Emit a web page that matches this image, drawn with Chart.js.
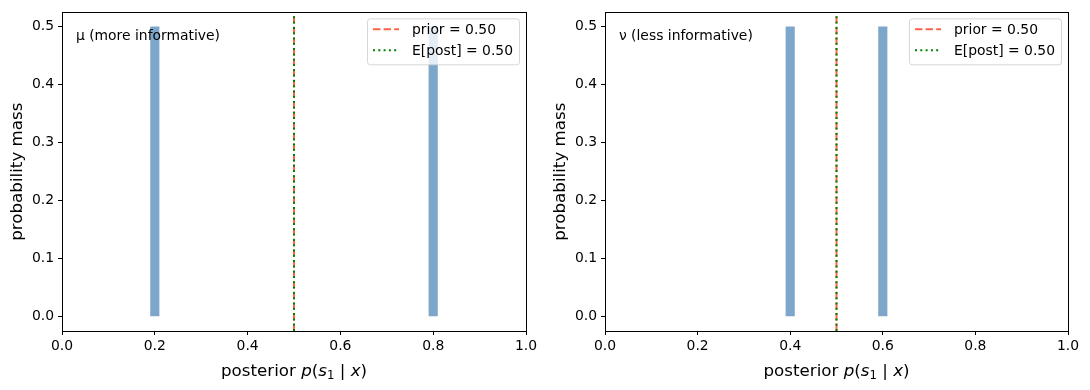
<!DOCTYPE html>
<html>
<head>
<meta charset="utf-8">
<script src="https://cdn.jsdelivr.net/npm/chart.js@4"></script>
<style>
  html, body { margin: 0; padding: 0; background: #fff; }
  #wrap { position: relative; width: 1090px; height: 390px; }
  .panel { position: absolute; top: 0; width: 545px; height: 390px; }
</style>
</head>
<body>
<div id="wrap">
  <div class="panel" style="left:0"><canvas id="muChart" width="545" height="390"></canvas></div>
  <div class="panel" style="left:545px"><canvas id="nuChart" width="545" height="390"></canvas></div>
</div>
<script>
// values
const xTicks = [0.0, 0.2, 0.4, 0.6, 0.8, 1.0];
const yTicks = [0.0, 0.1, 0.2, 0.3, 0.4, 0.5];
const muPosteriors = [0.2, 0.8];
const muMass = [0.5, 0.5];
const nuPosteriors = [0.4, 0.6];
const nuMass = [0.5, 0.5];
const prior = 0.5;
const muMean = 0.5;
const nuMean = 0.5;

const FONT = "'DejaVu Sans', sans-serif";

// frame, annotation, legend and axis titles, drawn the matplotlib way
const decorPlugin = {
  id: "decor",
  afterDatasetsDraw(chart, args, opts) {
    const ctx = chart.ctx;
    const a = chart.chartArea;
    ctx.save();

    // full box around the axes
    ctx.strokeStyle = "#000";
    ctx.lineWidth = 1;
    ctx.strokeRect(Math.round(a.left) + 0.5, Math.round(a.top) + 0.5,
      Math.round(a.right - a.left), Math.round(a.bottom - a.top));

    // annotation in axes coords (0.03, 0.95)
    ctx.fillStyle = "#000";
    ctx.font = "13.9px " + FONT;
    ctx.textAlign = "left";
    ctx.textBaseline = "top";
    ctx.fillText(opts.note, a.left + 0.03 * (a.right - a.left), a.top + 0.05 * (a.bottom - a.top) + 1);

    // legend, top right
    const items = chart.data.datasets.filter((d) => d.label);
    ctx.font = "13.9px " + FONT;
    let textW = 0;
    items.forEach((d) => { textW = Math.max(textW, ctx.measureText(d.label).width); });
    const boxW = 6 + 26 + 13 + textW + 6;
    const boxH = 46;
    const bx = a.right - 7 - boxW;
    const by = a.top + 6;
    ctx.beginPath();
    ctx.roundRect(bx + 0.5, by + 0.5, boxW, boxH, 3);
    ctx.fillStyle = "rgba(255,255,255,0.8)";
    ctx.fill();
    ctx.strokeStyle = "rgba(204,204,204,0.8)";
    ctx.stroke();
    items.forEach((d, i) => {
      const cy = by + 11 + i * 21;
      ctx.beginPath();
      ctx.setLineDash(d.borderDash || []);
      ctx.lineWidth = d.borderWidth;
      ctx.strokeStyle = d.borderColor;
      ctx.moveTo(bx + 6, cy);
      ctx.lineTo(bx + 32, cy);
      ctx.stroke();
      ctx.setLineDash([]);
      ctx.fillStyle = "#000";
      ctx.textBaseline = "middle";
      ctx.fillText(d.label, bx + 45, cy + 1);
    });

    // y axis title
    ctx.save();
    ctx.translate(opts.yTitleX, (a.top + a.bottom) / 2);
    ctx.rotate(-Math.PI / 2);
    ctx.font = "16.7px " + FONT;
    ctx.textAlign = "center";
    ctx.textBaseline = "middle";
    ctx.fillStyle = "#000";
    ctx.fillText("probability mass", 0, 0);
    ctx.restore();

    // x axis title with math-style italics: posterior p(s1 | x)
    const parts = [
      { t: "posterior ", f: "16.7px " + FONT, dy: 0 },
      { t: "p", f: "oblique 16.7px " + FONT, dy: 0 },
      { t: "(", f: "16.7px " + FONT, dy: 0 },
      { t: "s", f: "oblique 16.7px " + FONT, dy: 0 },
      { t: "1", f: "11.7px " + FONT, dy: 3 },
      { t: " | ", f: "16.7px " + FONT, dy: 0 },
      { t: "x", f: "oblique 16.7px " + FONT, dy: 0 },
      { t: ")", f: "16.7px " + FONT, dy: 0 },
    ];
    let total = 0;
    parts.forEach((p) => { ctx.font = p.f; p.w = ctx.measureText(p.t).width; total += p.w; });
    let x = (a.left + a.right) / 2 - total / 2;
    const base = 376;
    ctx.textAlign = "left";
    ctx.textBaseline = "alphabetic";
    parts.forEach((p) => {
      ctx.font = p.f;
      ctx.fillText(p.t, x, base + p.dy);
      x += p.w;
    });

    ctx.restore();
  },
};

function makeChart(id, posteriors, mass, mean, note, yWidth, padRight, yTitleX) {
  const ctx = document.getElementById(id).getContext("2d");
  return new Chart(ctx, {
    type: "bar",
    data: {
      datasets: [
        {
          type: "line",
          label: "prior = " + prior.toFixed(2),
          data: [{ x: prior, y: -0.025 }, { x: prior, y: 0.525 }],
          borderColor: "tomato",
          borderWidth: 2,
          borderDash: [7.4, 3.2],
          pointRadius: 0,
          order: 2,
        },
        {
          type: "line",
          label: "E[post] = " + mean.toFixed(2),
          data: [{ x: mean, y: -0.025 }, { x: mean, y: 0.525 }],
          borderColor: "green",
          borderWidth: 2,
          borderDash: [2, 3.3],
          pointRadius: 0,
          order: 1,
        },
        {
          type: "bar",
          label: "",
          data: posteriors.map((p, i) => ({ x: p, y: mass[i] })),
          backgroundColor: "rgba(70,130,180,0.7)",
          borderWidth: 0,
          barThickness: 8.5,
          order: 3,
        },
      ],
    },
    options: {
      responsive: false,
      animation: false,
      layout: { padding: { top: 11, right: padRight, left: 0, bottom: 0 } },
      plugins: {
        legend: { display: false },
        tooltip: { enabled: false },
        decor: { note: note, yTitleX: yTitleX },
      },
      scales: {
        x: {
          type: "linear",
          min: 0,
          max: 1,
          offset: false,
          afterBuildTicks: (scale) => { scale.ticks = xTicks.map((v) => ({ value: v })); },
          afterFit: (scale) => { scale.height = 59; },
          grid: { drawOnChartArea: false, drawTicks: true, tickLength: 4, color: "#000", offset: false },
          border: { display: false },
          ticks: {
            stepSize: 0.2,
            autoSkip: false,
            padding: 3,
            color: "#000",
            font: { family: FONT, size: 13.9 },
            maxRotation: 0,
            callback: (v) => Number(v).toFixed(1),
          },
        },
        y: {
          min: -0.025,
          max: 0.525,
          afterBuildTicks: (scale) => { scale.ticks = yTicks.map((v) => ({ value: v })); },
          afterFit: (scale) => { scale.width = yWidth; },
          grid: { drawOnChartArea: false, drawTicks: true, tickLength: 4, color: "#000" },
          border: { display: false },
          ticks: {
            stepSize: 0.1,
            autoSkip: false,
            padding: 4,
            color: "#000",
            font: { family: FONT, size: 13.9 },
            callback: (v) => Number(v).toFixed(1),
          },
        },
      },
    },
    plugins: [decorPlugin],
  });
}

makeChart("muChart", muPosteriors, muMass, muMean, "\u03bc (more informative)", 62, 19, 17.5);
makeChart("nuChart", nuPosteriors, nuMass, nuMean, "\u03bd (less informative)", 60, 22, 15.5);
</script>
</body>
</html>
